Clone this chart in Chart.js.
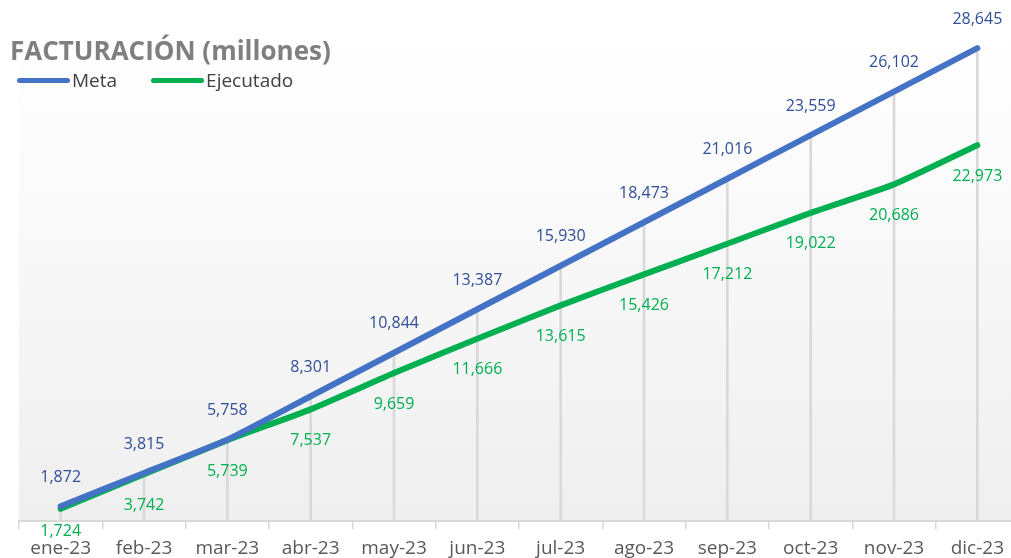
<!DOCTYPE html>
<html lang="es">
<head>
<meta charset="UTF-8" />
<title>Facturación 2023</title>
<script src="https://cdn.jsdelivr.net/npm/chart.js"></script>
<style>
    html, body { margin: 0; padding: 0; background: #fff; overflow: hidden; }
    body { font-family: 'Open Sans', sans-serif; }
    .wrap { width: 1011px; height: 558px; overflow: hidden; position: relative; }
    canvas { display: block; }
    .title { position: absolute; left: 10px; top: 32px; font-size: 26px; line-height: 36px; font-weight: 700; color: #7f7f7f; white-space: nowrap; }
    .legend { position: absolute; left: 17px; top: 67px; display: flex; align-items: center; font-size: 19px; line-height: 26px; color: #404040; }
    .legend .item { display: flex; align-items: center; margin-right: 34px; }
    .legend .swatch { width: 53px; height: 5px; border-radius: 3px; margin-right: 2px; }
</style>
</head>
<body>
<div class="wrap">
    <canvas id="chart" width="1025" height="568"></canvas>
    <div class="title">FACTURACIÓN (millones)</div>
    <div class="legend" id="legend"></div>
</div>
<script>
const months = ['ene-23', 'feb-23', 'mar-23', 'abr-23', 'may-23', 'jun-23', 'jul-23', 'ago-23', 'sep-23', 'oct-23', 'nov-23', 'dic-23'];
const meta = [1872, 3815, 5758, 8301, 10844, 13387, 15930, 18473, 21016, 23559, 26102, 28645];
const ejecutado = [1724, 3742, 5739, 7537, 9659, 11666, 13615, 15426, 17212, 19022, 20686, 22973];

const FONT = "'Open Sans', sans-serif";

// soft gradient behind the plot
const bgPlugin = {
    id: 'bg',
    beforeDraw(chart) {
        const { ctx, chartArea: a } = chart;
        const g = ctx.createLinearGradient(0, a.top, 0, a.bottom);
        g.addColorStop(0, '#ffffff');
        g.addColorStop(0.15, '#fdfdfd');
        g.addColorStop(1, '#efefef');
        ctx.save();
        ctx.fillStyle = g;
        ctx.fillRect(a.left, a.top, a.right - a.left, a.bottom - a.top);
        ctx.restore();
    }
};

// value labels: meta above, ejecutado below (kept just under the axis)
const labelPlugin = {
    id: 'valueLabels',
    afterDatasetsDraw(chart) {
        const ctx = chart.ctx;
        const bottom = chart.chartArea.bottom;
        ctx.save();
        ctx.font = '16px ' + FONT;
        ctx.textAlign = 'center';
        ctx.textBaseline = 'middle';
        chart.data.datasets.forEach((ds, i) => {
            if (ds.type === 'bar') return;
            const m = chart.getDatasetMeta(i);
            m.data.forEach((pt, j) => {
                const y = Math.min(pt.y + ds.labelOffset, bottom + 10);
                ctx.fillStyle = ds.labelColor;
                ctx.fillText(ds.data[j].toLocaleString('en-US'), pt.x, y);
            });
        });
        ctx.restore();
    }
};

const chart = new Chart(document.getElementById('chart'), {
    data: {
        labels: months,
        datasets: [
            {
                type: 'line',
                label: 'Meta',
                data: meta,
                borderColor: '#4472C4',
                backgroundColor: '#4472C4',
                borderWidth: 6,
                borderCapStyle: 'round',
                pointRadius: 0,
                tension: 0.15,
                labelColor: '#2F4F9A',
                labelOffset: -29,
                order: 0
            },
            {
                type: 'line',
                label: 'Ejecutado',
                data: ejecutado,
                borderColor: '#00B050',
                backgroundColor: '#00B050',
                borderWidth: 6,
                borderCapStyle: 'round',
                pointRadius: 0,
                tension: 0.15,
                labelColor: '#00B050',
                labelOffset: 31,
                order: 1
            },
            {
                // drop lines from the meta points to the axis
                type: 'bar',
                label: 'drop',
                data: meta,
                backgroundColor: '#d9d9d9',
                barThickness: 2,
                order: 2
            }
        ]
    },
    options: {
        responsive: false,
        devicePixelRatio: 1,
        animation: false,
        layout: { padding: { left: 19, right: 6, top: 25, bottom: 0 } },
        plugins: {
            tooltip: { enabled: false },
            legend: { display: false }
        },
        scales: {
            x: {
                offset: true,
                grid: {
                    offset: true,
                    drawOnChartArea: false,
                    tickLength: 8,
                    color: '#d9d9d9',
                    lineWidth: 1.5
                },
                border: { color: '#d9d9d9', width: 2 },
                ticks: {
                    color: '#595959',
                    padding: 8,
                    font: { family: FONT, size: 19 },
                    maxRotation: 0
                }
            },
            y: {
                display: false,
                min: 1000,
                max: 30000
            }
        }
    },
    plugins: [bgPlugin, labelPlugin]
});

// legend built from the line datasets
const legendEl = document.getElementById('legend');
chart.data.datasets.filter(ds => ds.type === 'line').forEach(ds => {
    const item = document.createElement('div');
    item.className = 'item';
    const sw = document.createElement('span');
    sw.className = 'swatch';
    sw.style.background = ds.borderColor;
    const txt = document.createElement('span');
    txt.textContent = ds.label;
    item.appendChild(sw);
    item.appendChild(txt);
    legendEl.appendChild(item);
});
</script>
</body>
</html>
